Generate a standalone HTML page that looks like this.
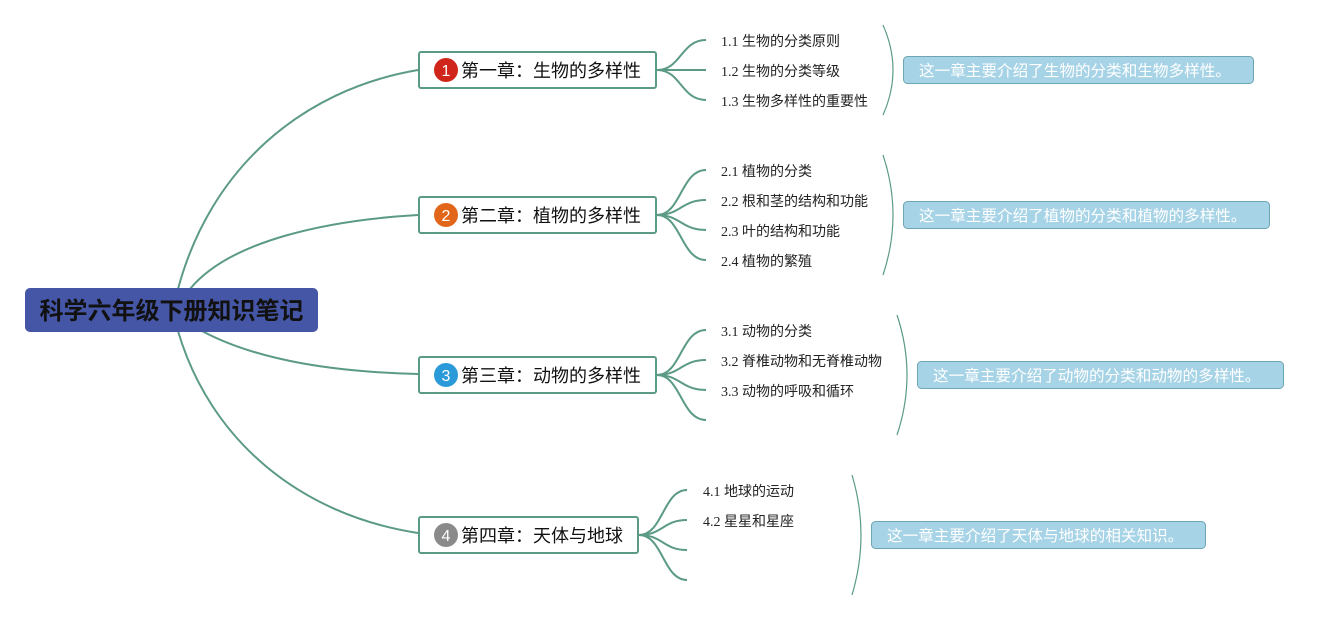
<!DOCTYPE html>
<html><head><meta charset="utf-8"><style>
html,body{margin:0;padding:0;background:#fff;}
svg{display:block;}
.sub{font-family:"Liberation Serif","Noto Sans CJK SC",serif;font-size:14px;fill:#222;}
.ch{font-family:"Liberation Sans","Noto Sans CJK SC",sans-serif;font-size:18px;fill:#111;}
.sum{font-family:"Liberation Sans","Noto Sans CJK SC",sans-serif;font-size:15.6px;fill:#fff;}
.num{font-family:"Liberation Sans","Noto Sans CJK SC",sans-serif;font-size:16px;fill:#fff;}
</style></head><body>
<svg width="1329" height="620" viewBox="0 0 1329 620" xmlns="http://www.w3.org/2000/svg">
<g fill="none" stroke="#5b9a86" stroke-width="2">
<path d="M178,289 C210,170 300,90 418,70"/>
<path d="M190,289 C230,240 330,220 418,215"/>
<path d="M202,331 C260,362 340,372 418,374"/>
<path d="M178,331 C210,440 300,515 418,533"/>
<path d="M657,70 C681,70 681,40 706,40"/>
<path d="M657,70 L706,70"/>
<path d="M657,70 C681,70 681,100 706,100"/>
<path d="M657,215 C681,215 681,170 706,170"/>
<path d="M657,215 C681,215 681,200 706,200"/>
<path d="M657,215 C681,215 681,230 706,230"/>
<path d="M657,215 C681,215 681,260 706,260"/>
<path d="M657,375 C681,375 681,330 706,330"/>
<path d="M657,375 C681,375 681,360 706,360"/>
<path d="M657,375 C681,375 681,390 706,390"/>
<path d="M657,375 C681,375 681,420 706,420"/>
<path d="M639,535 C663,535 663,490 687,490"/>
<path d="M639,535 C663,535 663,520 687,520"/>
<path d="M639,535 C663,535 663,550 687,550"/>
<path d="M639,535 C663,535 663,580 687,580"/>
</g>
<g fill="none" stroke="#5b9a86" stroke-width="1.2">
<path d="M883,25 Q903,70 883,115"/>
<path d="M883,155 Q903,215 883,275"/>
<path d="M897,315 Q917,375 897,435"/>
<path d="M852,475 Q870,535 852,595"/>
</g>
<rect x="25" y="288" width="293" height="44" rx="5" fill="#4556a6"/>
<text x="171.5" y="319" text-anchor="middle" font-family="'Liberation Sans','Noto Sans CJK SC',sans-serif" font-size="24" font-weight="bold" fill="#111">科学六年级下册知识笔记</text>

<g fill="#fff" stroke="#5b9a86" stroke-width="2">
<rect x="419" y="52" width="237" height="36" rx="2"/>
<rect x="419" y="197" width="237" height="36" rx="2"/>
<rect x="419" y="357" width="237" height="36" rx="2"/>
<rect x="419" y="517" width="219" height="36" rx="2"/>
</g>
<circle cx="446" cy="70" r="12" fill="#d0251a"/>
<circle cx="446" cy="215" r="12" fill="#e2661a"/>
<circle cx="446" cy="375" r="12" fill="#2b9ad9"/>
<circle cx="446" cy="535" r="12" fill="#8a8a8a"/>
<text class="num" x="446" y="76" text-anchor="middle">1</text>
<text class="num" x="446" y="221" text-anchor="middle">2</text>
<text class="num" x="446" y="381" text-anchor="middle">3</text>
<text class="num" x="446" y="541" text-anchor="middle">4</text>
<text class="ch" x="461" y="77">第一章：生物的多样性</text>
<text class="ch" x="461" y="222">第二章：植物的多样性</text>
<text class="ch" x="461" y="382">第三章：动物的多样性</text>
<text class="ch" x="461" y="542">第四章：天体与地球</text>

<text class="sub" x="721" y="46">1.1 生物的分类原则</text>
<text class="sub" x="721" y="76">1.2 生物的分类等级</text>
<text class="sub" x="721" y="106">1.3 生物多样性的重要性</text>
<text class="sub" x="721" y="176">2.1 植物的分类</text>
<text class="sub" x="721" y="206">2.2 根和茎的结构和功能</text>
<text class="sub" x="721" y="236">2.3 叶的结构和功能</text>
<text class="sub" x="721" y="266">2.4 植物的繁殖</text>
<text class="sub" x="721" y="336">3.1 动物的分类</text>
<text class="sub" x="721" y="366">3.2 脊椎动物和无脊椎动物</text>
<text class="sub" x="721" y="396">3.3 动物的呼吸和循环</text>
<text class="sub" x="703" y="496">4.1 地球的运动</text>
<text class="sub" x="703" y="526">4.2 星星和星座</text>

<g fill="#a7d3e6" stroke="#6fa6b4" stroke-width="1">
<rect x="903.5" y="56.5" width="350" height="27" rx="4"/>
<rect x="903.5" y="201.5" width="366" height="27" rx="4"/>
<rect x="917.5" y="361.5" width="366" height="27" rx="4"/>
<rect x="871.5" y="521.5" width="334" height="27" rx="4"/>
</g>
<text class="sum" x="919" y="76">这一章主要介绍了生物的分类和生物多样性。</text>
<text class="sum" x="919" y="221">这一章主要介绍了植物的分类和植物的多样性。</text>
<text class="sum" x="933" y="381">这一章主要介绍了动物的分类和动物的多样性。</text>
<text class="sum" x="887" y="541">这一章主要介绍了天体与地球的相关知识。</text>
</svg>
</body></html>
